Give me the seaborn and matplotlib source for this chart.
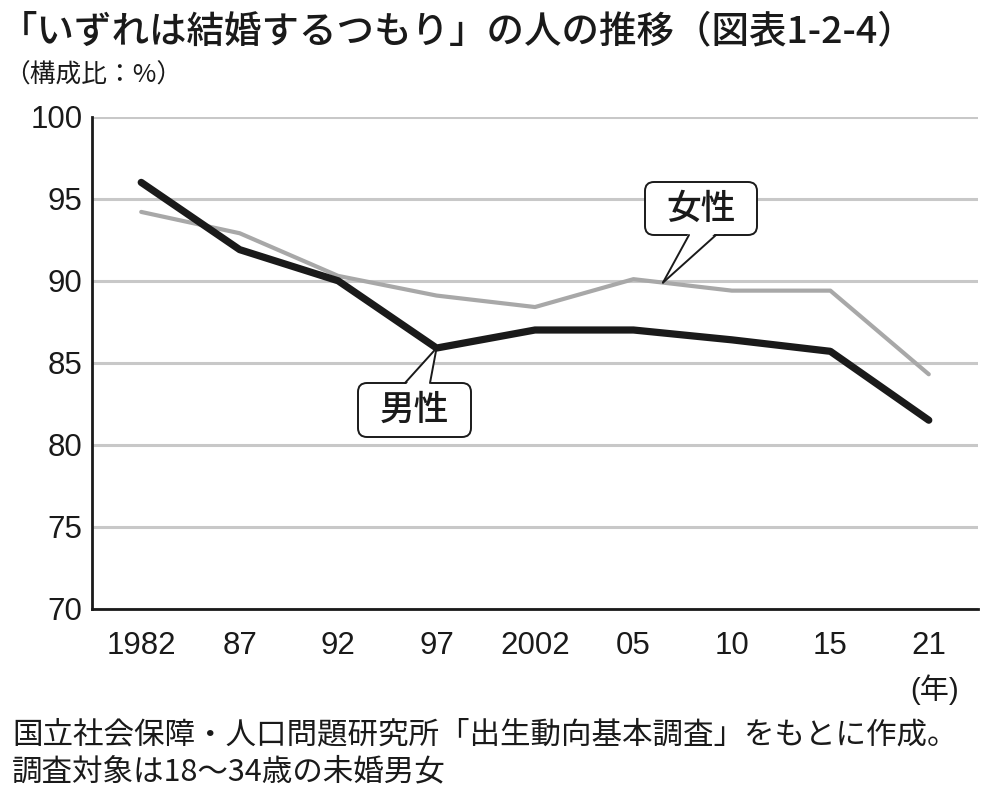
import pandas as pd
import matplotlib
matplotlib.use('Agg')
import matplotlib.pyplot as plt
import seaborn as sns
from matplotlib.patches import FancyBboxPatch, Polygon
from matplotlib.lines import Line2D
from matplotlib.transforms import IdentityTransform

years = ['1982', '87', '92', '97', '2002', '05', '10', '15', '21']
male = [96.0, 91.9, 90.0, 85.9, 87.0, 87.0, 86.4, 85.7, 81.5]
female = [94.2, 92.9, 90.3, 89.1, 88.4, 90.1, 89.4, 89.4, 84.3]
yticks = [70, 75, 80, 85, 90, 95, 100]

sns.set_theme(style='white')
plt.rcParams['font.family'] = ['Liberation Sans', 'Noto Sans CJK JP', 'DejaVu Sans']
JP = ['Noto Sans CJK JP', 'DejaVu Sans']
INK = '#1a1a1a'

df = pd.DataFrame({
    'pos': list(range(len(years))) * 2,
    'value': male + female,
    'sex': ['男性'] * len(years) + ['女性'] * len(years),
})

fig, ax = plt.subplots(figsize=(10, 8), dpi=100)
fig.subplots_adjust(left=0.092, right=0.978, bottom=0.239, top=0.854)

sns.lineplot(data=df, x='pos', y='value', hue='sex', size='sex',
             hue_order=['女性', '男性'],
             palette={'男性': INK, '女性': '#a8a8a8'},
             sizes={'男性': 5.2, '女性': 3.0},
             legend=False, ax=ax, solid_capstyle='round')

ax.set_xlim(-0.5, len(years) - 0.5)
ax.set_ylim(70, 100)
ax.set_xticks(range(len(years)))
ax.set_xticklabels(years)
ax.set_yticks(yticks)
ax.set_xlabel('')
ax.set_ylabel('')
ax.yaxis.grid(True, color='#c8c8c8', lw=2.2)
ax.set_axisbelow(True)
for s in ['top', 'right']:
    ax.spines[s].set_visible(False)
for s in ['left', 'bottom']:
    ax.spines[s].set_color(INK)
    ax.spines[s].set_linewidth(2)
ax.tick_params(axis='both', direction='in', length=7, width=2, color=INK,
               labelsize=22.5, labelcolor=INK)
ax.tick_params(axis='y', pad=7)
ax.tick_params(axis='x', pad=16)

fig.text(0.0, 0.961, '「いずれは結婚するつもり」の人の推移（図表1-2-4）',
         fontsize=27, fontweight='medium', color=INK, va='center', family=JP)
fig.text(0.004, 0.906, '（構成比：%）', fontsize=18.5, color=INK, va='center', family=JP)
fig.text(0.935, 0.1375, '(年)', fontsize=21, color=INK, ha='center', va='center')
fig.text(0.012, 0.081, '国立社会保障・人口問題研究所「出生動向基本調査」をもとに作成。',
         fontsize=22, color=INK, va='center', family=JP)
fig.text(0.012, 0.035, '調査対象は18〜34歳の未婚男女',
         fontsize=22, color=INK, va='center', family=JP)

H = 800
ident = IdentityTransform()


def callout(label, box, base, tip):
    x0, y0, x1, y1 = box
    patch = FancyBboxPatch((x0, H - y1), x1 - x0, y1 - y0,
                           boxstyle='round,pad=0,rounding_size=9',
                           transform=ident, fc='white', ec=INK, lw=1.4, zorder=5)
    fig.add_artist(patch)
    bx0, bx1, by = base
    inward = 2.5 if by == y0 else -2.5
    tri = Polygon([(bx0, H - by - inward), (bx1, H - by - inward), tip],
                  closed=True, transform=ident, fc='white', ec='none', zorder=6)
    fig.add_artist(tri)
    for bx in (bx0, bx1):
        fig.add_artist(Line2D([bx, tip[0]], [H - by, tip[1]], transform=ident,
                              color=INK, lw=1.4, zorder=7))
    fig.text((x0 + x1) / 2, H - (y0 + y1) / 2, label, transform=ident,
             fontsize=25, fontweight='medium', color=INK, ha='center', va='center',
             family=JP, zorder=8)


tip_f = ax.transData.transform((5.3, female[5] + 0.3 * (female[6] - female[5])))
tip_m = ax.transData.transform((3, male[3]))
callout('女性', (645, 182, 757, 235), (689, 716, 235), tip_f)
callout('男性', (358, 383, 471, 437), (405, 430, 383), tip_m)

fig.savefig('out.png', dpi=100)
